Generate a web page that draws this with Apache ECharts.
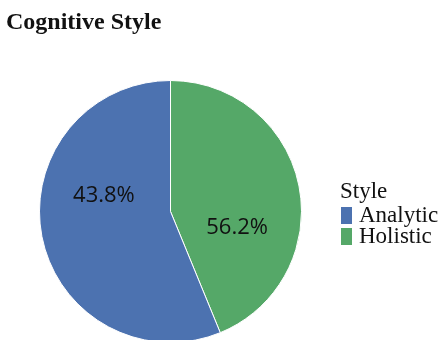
<!DOCTYPE html>
<html>
<head>
<meta charset="utf-8">
<script src="https://cdn.jsdelivr.net/npm/echarts@6/dist/echarts.min.js"></script>
<style>
  html, body { margin: 0; padding: 0; background: #fff; }
  #chart { width: 441px; height: 340px; }
</style>
</head>
<body>
<div id="chart"></div>
<script>
// slices as drawn (share of the circle), clockwise from 12 o'clock
var sliceNames = ['Holistic', 'Analytic'];
var sliceShares = [43.8, 56.2];
var sliceColors = ['#55a868', '#4c72b0'];

// percentage labels as printed in the picture
var labelNames = ['Analytic', 'Holistic'];
var labelShares = [43.8, 56.2];

var legendNames = ['Analytic', 'Holistic'];

var chart = echarts.init(document.getElementById('chart'));

var slices = sliceNames.map(function (n, i) {
    return { name: n, value: sliceShares[i], itemStyle: { color: sliceColors[i] } };
});
var labels = labelNames.map(function (n, i) {
    return { name: n + ' label', value: labelShares[i] };
});

chart.setOption({
    animation: false,
    title: {
        text: 'Cognitive Style',
        left: 1,
        top: 6,
        textStyle: { fontFamily: 'Liberation Serif', fontWeight: 'bold', fontSize: 24, color: '#111' }
    },
    graphic: [{
        type: 'text',
        left: 340,
        top: 180,
        style: { text: 'Style', font: '23px "Liberation Serif"', fill: '#111' }
    }],
    legend: {
        data: legendNames,
        orient: 'vertical',
        left: 336,
        top: 199,
        itemWidth: 11,
        itemHeight: 17,
        itemGap: -2,
        icon: 'rect',
        itemStyle: { borderWidth: 0 },
        selectedMode: false,
        textStyle: { fontFamily: 'Liberation Serif', fontSize: 23, color: '#111', padding: [0, 0, 0, 2] }
    },
    series: [{
        type: 'pie',
        center: [170.5, 211.5],
        radius: 131,
        startAngle: 90,
        clockwise: true,
        label: { show: false },
        labelLine: { show: false },
        itemStyle: { borderColor: '#fff', borderWidth: 1 },
        emphasis: { disabled: true },
        data: slices
    }, {
        type: 'pie',
        center: [170.5, 211.5],
        radius: 131,
        startAngle: 245.3,
        clockwise: true,
        silent: true,
        itemStyle: { color: 'rgba(0,0,0,0)' },
        label: {
            show: true,
            position: 'inside',
            formatter: function (p) { return p.value.toFixed(1) + '%'; },
            fontFamily: 'Open Sans',
            fontSize: 22,
            color: '#111'
        },
        labelLine: { show: false },
        emphasis: { disabled: true },
        data: labels
    }]
});
</script>
</body>
</html>
